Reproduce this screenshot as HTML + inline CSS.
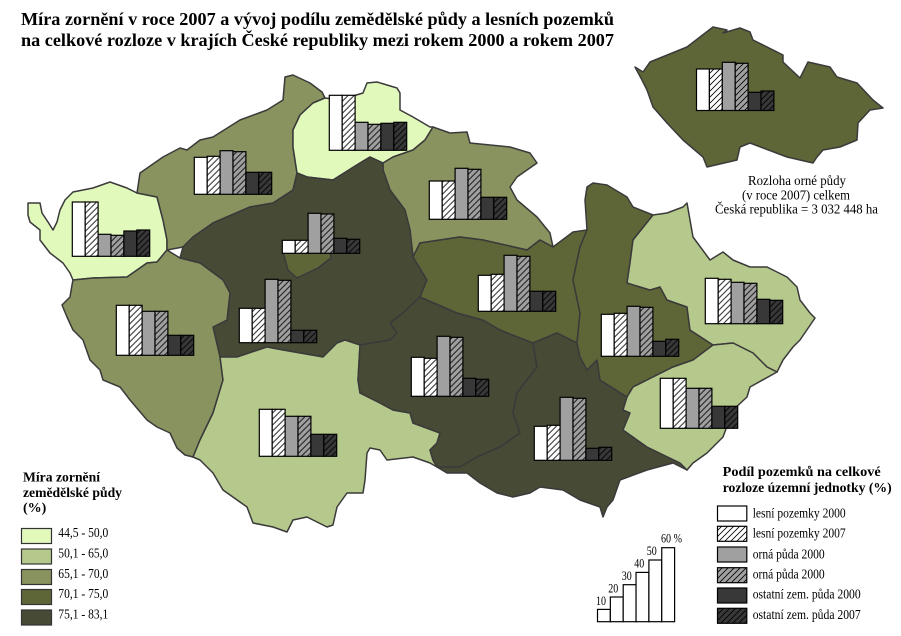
<!DOCTYPE html>
<html><head><meta charset="utf-8"><style>
html,body{margin:0;padding:0;background:#fff;}
svg{display:block;}
text{font-family:"Liberation Serif","DejaVu Serif",serif;fill:#000;}
.b rect{stroke:#000;stroke-width:1.2;}
</style></head><body>
<svg width="901" height="636" viewBox="0 0 901 636" xmlns="http://www.w3.org/2000/svg">
<defs>
<pattern id="pw" patternUnits="userSpaceOnUse" width="6" height="6"><rect width="6" height="6" fill="#fff"/><path d="M0,6 L6,0 M-1,1 L1,-1 M5,7 L7,5" stroke="#000" stroke-width="0.8"/></pattern>
<pattern id="pg" patternUnits="userSpaceOnUse" width="6" height="6"><rect width="6" height="6" fill="#a0a0a0"/><path d="M0,6 L6,0 M-1,1 L1,-1 M5,7 L7,5" stroke="#000" stroke-width="0.8"/></pattern>
<pattern id="pd" patternUnits="userSpaceOnUse" width="6" height="6"><rect width="6" height="6" fill="#383838"/><path d="M0,6 L6,0 M-1,1 L1,-1 M5,7 L7,5" stroke="#000" stroke-width="0.9"/></pattern>
</defs>

<!-- Title -->
<text x="21" y="25" font-size="17.5" font-weight="bold" textLength="593" lengthAdjust="spacingAndGlyphs">Míra zornění v roce 2007 a vývoj podílu zemědělské půdy a lesních pozemků</text>
<text x="21" y="46" font-size="17.5" font-weight="bold" textLength="593" lengthAdjust="spacingAndGlyphs">na celkové rozloze v krajích České republiky mezi rokem 2000 a rokem 2007</text>

<!-- Main map -->
<g stroke="#3a3a3a" stroke-width="1.5" stroke-linejoin="round">
<polygon fill="#e2f9bc" points="28,203 40,203 42,213 48,222 53,230 57,222 60,210 65,200 73,192 93,188 110,182 127,188 137,193 157,197 163,220 167,240 167,250 157,262 147,263 127,277 93,278 73,280 70,273 63,263 50,253 40,240 40,230 30,222 28,215"/>
<polygon fill="#89935f" points="137,193 140,173 163,157 180,148 187,150 200,140 213,137 240,120 267,110 283,100 285,77 293,75 310,83 322,92 325,98 313,103 300,115 293,130 293,147 297,173 293,190 273,203 250,207 213,223 193,237 183,247 167,250 167,240 163,220 157,197"/>
<polygon fill="#e2f9bc" points="325,98 340,100 363,93 367,83 377,82 397,88 400,93 400,110 413,117 430,127 433,127 425,140 413,150 393,157 383,163 370,157 360,163 333,180 307,177 297,173 293,147 293,130 300,115 313,103"/>
<polygon fill="#89935f" points="433,127 450,133 467,132 470,143 510,147 530,153 537,163 517,177 510,187 517,200 537,217 550,233 553,247 540,240 527,250 483,240 460,237 420,243 413,257 410,230 405,210 390,190 383,170 383,163 393,157 413,150 425,140"/>
<polygon fill="#474a35" points="183,247 193,237 213,223 250,207 273,203 293,190 297,173 307,177 333,180 360,163 370,157 383,163 383,170 390,190 405,210 410,230 413,257 427,280 420,297 403,313 390,323 397,333 390,340 360,345 345,340 337,343 323,357 283,350 267,347 237,357 220,357 213,327 227,320 230,293 223,280 200,263 180,258"/>
<polygon fill="#5e6638" points="283,252 330,252 331,258 318,268 297,278 288,270"/>
<polygon fill="#89935f" points="73,280 93,278 127,277 147,263 157,262 167,250 180,258 200,263 223,280 230,293 227,320 213,327 220,357 223,380 213,413 200,440 193,457 185,455 177,448 170,433 157,427 147,420 130,400 120,387 103,380 100,370 90,360 83,340 73,330 67,317 62,305 70,297 72,285"/>
<polygon fill="#b6c98c" points="220,357 237,357 267,347 283,350 323,357 337,343 345,340 360,345 358,380 360,393 380,403 393,410 410,413 413,423 440,433 437,443 430,450 433,460 437,467 430,463 413,457 387,460 380,450 370,448 367,453 365,480 363,493 347,493 337,507 333,525 327,527 307,517 293,520 287,532 273,527 253,523 247,507 223,490 213,473 200,460 193,457 200,440 213,413 223,380"/>
<polygon fill="#474a35" points="360,345 390,340 397,333 390,323 403,313 420,297 457,313 483,320 500,330 533,343 537,367 527,380 517,393 513,413 520,433 500,447 477,457 460,467 437,467 433,460 430,450 437,443 440,433 413,423 410,413 393,410 380,403 360,393 358,380"/>
<polygon fill="#5e6638" points="413,257 420,243 460,237 483,240 527,250 540,240 553,247 573,232 587,230 580,247 573,280 580,313 577,343 557,333 533,343 500,330 483,320 457,313 420,297 427,280"/>
<polygon fill="#474a35" points="533,343 557,333 577,343 580,357 587,370 597,360 600,380 627,397 623,410 630,413 623,430 647,447 680,463 687,470 673,463 647,470 620,480 613,500 607,507 603,517 600,507 580,500 563,490 540,487 530,493 513,497 497,493 480,483 467,473 447,473 437,467 460,467 477,457 500,447 520,433 513,413 517,393 527,380 537,367"/>
<polygon fill="#5e6638" points="587,187 593,183 607,185 627,197 633,207 653,215 633,240 630,263 627,283 650,290 660,287 667,300 687,307 690,330 713,345 693,360 673,367 653,377 633,387 627,397 600,380 597,360 587,370 580,357 577,343 580,313 573,280 580,247 587,230 585,200"/>
<polygon fill="#b6c98c" points="653,215 667,213 683,207 687,203 690,220 693,237 710,260 723,252 733,260 750,267 767,267 787,277 797,287 800,300 810,313 815,318 800,340 793,347 783,360 777,372 767,367 753,353 733,343 713,345 690,330 687,307 667,300 660,287 650,290 627,283 630,263 633,240"/>
<polygon fill="#b6c98c" points="713,345 733,343 753,353 767,367 777,372 750,387 747,397 733,410 723,437 707,453 693,463 687,470 680,463 647,447 623,430 630,413 623,410 627,397 633,387 653,377 673,367 693,360"/>
<!-- Inset -->
<polygon fill="#5e6638" points="635,67 643,72 650,62 687,47 713,27 727,30 723,33 740,28 750,32 753,40 783,55 783,62 800,78 808,62 830,67 837,77 857,83 873,100 883,108 870,110 858,123 857,140 840,147 823,150 817,157 813,163 787,157 750,143 740,147 737,160 707,167 703,157 683,140 667,123 653,107 647,90 642,80"/>
</g>

<!-- Bar charts -->
<g class="b">
<g transform="translate(194.3,194.3)"><rect x="0" y="-37" width="12.9" height="37" fill="#fff"/><rect x="12.9" y="-38" width="12.9" height="38" fill="url(#pw)"/><rect x="25.8" y="-43.6" width="12.9" height="43.6" fill="#a0a0a0"/><rect x="38.7" y="-42.6" width="12.9" height="42.6" fill="url(#pg)"/><rect x="51.6" y="-22" width="12.9" height="22" fill="#383838"/><rect x="64.5" y="-22" width="12.9" height="22" fill="url(#pd)"/></g>
<g transform="translate(329.3,150.3)"><rect x="0" y="-55" width="12.9" height="55" fill="#fff"/><rect x="12.9" y="-55" width="12.9" height="55" fill="url(#pw)"/><rect x="25.8" y="-28" width="12.9" height="28" fill="#a0a0a0"/><rect x="38.7" y="-26" width="12.9" height="26" fill="url(#pg)"/><rect x="51.6" y="-27" width="12.9" height="27" fill="#383838"/><rect x="64.5" y="-28" width="12.9" height="28" fill="url(#pd)"/></g>
<g transform="translate(72.3,256.3)"><rect x="0" y="-54.3" width="12.9" height="54.3" fill="#fff"/><rect x="12.9" y="-54.3" width="12.9" height="54.3" fill="url(#pw)"/><rect x="25.8" y="-22" width="12.9" height="22" fill="#a0a0a0"/><rect x="38.7" y="-21" width="12.9" height="21" fill="url(#pg)"/><rect x="51.6" y="-25.3" width="12.9" height="25.3" fill="#383838"/><rect x="64.5" y="-26.3" width="12.9" height="26.3" fill="url(#pd)"/></g>
<g transform="translate(282.3,253.3)"><rect x="0" y="-13" width="12.9" height="13" fill="#fff"/><rect x="12.9" y="-13" width="12.9" height="13" fill="url(#pw)"/><rect x="25.8" y="-40" width="12.9" height="40" fill="#a0a0a0"/><rect x="38.7" y="-39.3" width="12.9" height="39.3" fill="url(#pg)"/><rect x="51.6" y="-15" width="12.9" height="15" fill="#383838"/><rect x="64.5" y="-14" width="12.9" height="14" fill="url(#pd)"/></g>
<g transform="translate(116.3,355.3)"><rect x="0" y="-50" width="12.9" height="50" fill="#fff"/><rect x="12.9" y="-50" width="12.9" height="50" fill="url(#pw)"/><rect x="25.8" y="-44" width="12.9" height="44" fill="#a0a0a0"/><rect x="38.7" y="-44" width="12.9" height="44" fill="url(#pg)"/><rect x="51.6" y="-20" width="12.9" height="20" fill="#383838"/><rect x="64.5" y="-20" width="12.9" height="20" fill="url(#pd)"/></g>
<g transform="translate(239.3,342.7)"><rect x="0" y="-34.4" width="12.9" height="34.4" fill="#fff"/><rect x="12.9" y="-34.4" width="12.9" height="34.4" fill="url(#pw)"/><rect x="25.8" y="-63.4" width="12.9" height="63.4" fill="#a0a0a0"/><rect x="38.7" y="-62.4" width="12.9" height="62.4" fill="url(#pg)"/><rect x="51.6" y="-12.4" width="12.9" height="12.4" fill="#383838"/><rect x="64.5" y="-12.4" width="12.9" height="12.4" fill="url(#pd)"/></g>
<g transform="translate(259.3,456.3)"><rect x="0" y="-47" width="12.9" height="47" fill="#fff"/><rect x="12.9" y="-47" width="12.9" height="47" fill="url(#pw)"/><rect x="25.8" y="-40" width="12.9" height="40" fill="#a0a0a0"/><rect x="38.7" y="-40" width="12.9" height="40" fill="url(#pg)"/><rect x="51.6" y="-22" width="12.9" height="22" fill="#383838"/><rect x="64.5" y="-22" width="12.9" height="22" fill="url(#pd)"/></g>
<g transform="translate(429.3,219.3)"><rect x="0" y="-38.3" width="12.9" height="38.3" fill="#fff"/><rect x="12.9" y="-38.3" width="12.9" height="38.3" fill="url(#pw)"/><rect x="25.8" y="-51" width="12.9" height="51" fill="#a0a0a0"/><rect x="38.7" y="-50" width="12.9" height="50" fill="url(#pg)"/><rect x="51.6" y="-22" width="12.9" height="22" fill="#383838"/><rect x="64.5" y="-22" width="12.9" height="22" fill="url(#pd)"/></g>
<g transform="translate(478.3,311.3)"><rect x="0" y="-36" width="12.9" height="36" fill="#fff"/><rect x="12.9" y="-37" width="12.9" height="37" fill="url(#pw)"/><rect x="25.8" y="-56" width="12.9" height="56" fill="#a0a0a0"/><rect x="38.7" y="-55" width="12.9" height="55" fill="url(#pg)"/><rect x="51.6" y="-20" width="12.9" height="20" fill="#383838"/><rect x="64.5" y="-20" width="12.9" height="20" fill="url(#pd)"/></g>
<g transform="translate(411.3,396.3)"><rect x="0" y="-39" width="12.9" height="39" fill="#fff"/><rect x="12.9" y="-38" width="12.9" height="38" fill="url(#pw)"/><rect x="25.8" y="-60" width="12.9" height="60" fill="#a0a0a0"/><rect x="38.7" y="-59" width="12.9" height="59" fill="url(#pg)"/><rect x="51.6" y="-18" width="12.9" height="18" fill="#383838"/><rect x="64.5" y="-17" width="12.9" height="17" fill="url(#pd)"/></g>
<g transform="translate(534.3,460.3)"><rect x="0" y="-34" width="12.9" height="34" fill="#fff"/><rect x="12.9" y="-35" width="12.9" height="35" fill="url(#pw)"/><rect x="25.8" y="-63" width="12.9" height="63" fill="#a0a0a0"/><rect x="38.7" y="-62" width="12.9" height="62" fill="url(#pg)"/><rect x="51.6" y="-12" width="12.9" height="12" fill="#383838"/><rect x="64.5" y="-13" width="12.9" height="13" fill="url(#pd)"/></g>
<g transform="translate(601.3,356.3)"><rect x="0" y="-42" width="12.9" height="42" fill="#fff"/><rect x="12.9" y="-43" width="12.9" height="43" fill="url(#pw)"/><rect x="25.8" y="-50" width="12.9" height="50" fill="#a0a0a0"/><rect x="38.7" y="-49" width="12.9" height="49" fill="url(#pg)"/><rect x="51.6" y="-15" width="12.9" height="15" fill="#383838"/><rect x="64.5" y="-17" width="12.9" height="17" fill="url(#pd)"/></g>
<g transform="translate(705.3,323.7)"><rect x="0" y="-45.4" width="12.9" height="45.4" fill="#fff"/><rect x="12.9" y="-44.4" width="12.9" height="44.4" fill="url(#pw)"/><rect x="25.8" y="-41.4" width="12.9" height="41.4" fill="#a0a0a0"/><rect x="38.7" y="-40.4" width="12.9" height="40.4" fill="url(#pg)"/><rect x="51.6" y="-24.4" width="12.9" height="24.4" fill="#383838"/><rect x="64.5" y="-23.4" width="12.9" height="23.4" fill="url(#pd)"/></g>
<g transform="translate(660.3,428.3)"><rect x="0" y="-50" width="12.9" height="50" fill="#fff"/><rect x="12.9" y="-50" width="12.9" height="50" fill="url(#pw)"/><rect x="25.8" y="-40" width="12.9" height="40" fill="#a0a0a0"/><rect x="38.7" y="-40" width="12.9" height="40" fill="url(#pg)"/><rect x="51.6" y="-22" width="12.9" height="22" fill="#383838"/><rect x="64.5" y="-22" width="12.9" height="22" fill="url(#pd)"/></g>
<g transform="translate(696.5,110.5)"><rect x="0" y="-41.5" width="12.9" height="41.5" fill="#fff"/><rect x="12.9" y="-41.5" width="12.9" height="41.5" fill="url(#pw)"/><rect x="25.8" y="-48.2" width="12.9" height="48.2" fill="#a0a0a0"/><rect x="38.7" y="-47.2" width="12.9" height="47.2" fill="url(#pg)"/><rect x="51.6" y="-18.2" width="12.9" height="18.2" fill="#383838"/><rect x="64.5" y="-19.5" width="12.9" height="19.5" fill="url(#pd)"/></g>
</g>

<!-- Inset caption -->
<text x="797" y="185" font-size="13.5" text-anchor="middle" textLength="98" lengthAdjust="spacingAndGlyphs">Rozloha orné půdy</text>
<text x="796" y="199.5" font-size="13.5" text-anchor="middle" textLength="108" lengthAdjust="spacingAndGlyphs">(v roce 2007) celkem</text>
<text x="715" y="213.5" font-size="13.5" textLength="163" lengthAdjust="spacingAndGlyphs">Česká republika = 3 032 448 ha</text>

<!-- Left legend -->
<text x="23" y="481.5" font-size="14" font-weight="bold" textLength="77" lengthAdjust="spacingAndGlyphs">Míra zornění</text>
<text x="23" y="497" font-size="14" font-weight="bold" textLength="99" lengthAdjust="spacingAndGlyphs">zemědělské půdy</text>
<text x="23" y="512" font-size="14" font-weight="bold">(%)</text>
<g stroke="#333" stroke-width="1.2">
<rect x="21.5" y="528.5" width="30" height="15" fill="#e2f9bc"/>
<rect x="21.5" y="549" width="30" height="15" fill="#b6c98c"/>
<rect x="21.5" y="569.5" width="30" height="15" fill="#89935f"/>
<rect x="21.5" y="589.5" width="30" height="15" fill="#5e6638"/>
<rect x="21.5" y="610" width="30" height="15" fill="#474a35"/>
</g>
<g font-size="14">
<text x="58.3" y="537" textLength="50" lengthAdjust="spacingAndGlyphs">44,5 - 50,0</text>
<text x="58.3" y="557.5" textLength="50" lengthAdjust="spacingAndGlyphs">50,1 - 65,0</text>
<text x="58.3" y="577.8" textLength="50" lengthAdjust="spacingAndGlyphs">65,1 - 70,0</text>
<text x="58.3" y="597.8" textLength="50" lengthAdjust="spacingAndGlyphs">70,1 - 75,0</text>
<text x="58.3" y="618.3" textLength="50" lengthAdjust="spacingAndGlyphs">75,1 - 83,1</text>
</g>

<!-- Right legend -->
<text x="722.7" y="476" font-size="14" font-weight="bold" textLength="158" lengthAdjust="spacingAndGlyphs">Podíl pozemků na celkové</text>
<text x="722.7" y="492" font-size="14" font-weight="bold" textLength="169" lengthAdjust="spacingAndGlyphs">rozloze územní jednotky (%)</text>
<g stroke="#000" stroke-width="1.2">
<rect x="717.5" y="506" width="29.3" height="15" fill="#fff"/>
<rect x="717.5" y="526.3" width="29.3" height="15" fill="url(#pw)"/>
<rect x="717.5" y="547" width="29.3" height="15" fill="#a0a0a0"/>
<rect x="717.5" y="567.7" width="29.3" height="15" fill="url(#pg)"/>
<rect x="717.5" y="588" width="29.3" height="15" fill="#383838"/>
<rect x="717.5" y="608.3" width="29.3" height="15" fill="url(#pd)"/>
</g>
<g font-size="13.5">
<text x="752.7" y="517.3" textLength="93" lengthAdjust="spacingAndGlyphs">lesní pozemky 2000</text>
<text x="752.7" y="537.5" textLength="93" lengthAdjust="spacingAndGlyphs">lesní pozemky 2007</text>
<text x="752.7" y="558.3" textLength="72" lengthAdjust="spacingAndGlyphs">orná půda 2000</text>
<text x="752.7" y="578.5" textLength="72" lengthAdjust="spacingAndGlyphs">orná půda 2000</text>
<text x="752.7" y="598.5" textLength="108" lengthAdjust="spacingAndGlyphs">ostatní zem. půda 2000</text>
<text x="752.7" y="619" textLength="108" lengthAdjust="spacingAndGlyphs">ostatní zem. půda 2007</text>
</g>

<!-- Scale bars -->
<g stroke="#000" stroke-width="1.2" fill="#fff">
<rect x="597.5" y="609.4" width="12.85" height="12.3"/>
<rect x="610.35" y="597" width="12.85" height="24.7"/>
<rect x="623.2" y="584.7" width="12.85" height="37"/>
<rect x="636.05" y="572.4" width="12.85" height="49.3"/>
<rect x="648.9" y="560" width="12.85" height="61.7"/>
<rect x="661.75" y="547.7" width="12.85" height="74"/>
</g>
<g font-size="13">
<text x="596" y="605" textLength="10" lengthAdjust="spacingAndGlyphs">10</text>
<text x="608.3" y="592.7" textLength="10" lengthAdjust="spacingAndGlyphs">20</text>
<text x="621.7" y="580" textLength="10" lengthAdjust="spacingAndGlyphs">30</text>
<text x="634.3" y="567.7" textLength="10" lengthAdjust="spacingAndGlyphs">40</text>
<text x="646.7" y="555" textLength="10" lengthAdjust="spacingAndGlyphs">50</text>
<text x="661" y="542.7" textLength="21" lengthAdjust="spacingAndGlyphs">60 %</text>
</g>
</svg>
</body></html>
